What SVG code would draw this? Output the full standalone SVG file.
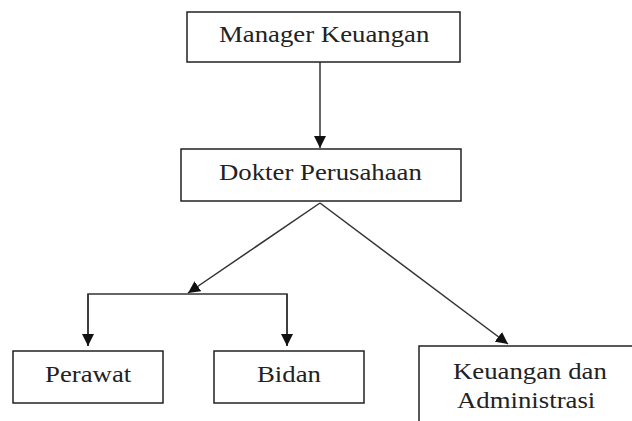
<svg xmlns="http://www.w3.org/2000/svg" width="632" height="421" viewBox="0 0 632 421">
<style>
.box{fill:#fff;stroke:#222;stroke-width:1.5}
.lbl{font-family:"Liberation Serif","Times New Roman",serif;font-size:22.5px;fill:#222}
.con{fill:none;stroke:#333;stroke-width:1.5}
</style>
<defs>
<marker id="ah" viewBox="0 0 12 12" refX="12" refY="6" markerWidth="12" markerHeight="12" markerUnits="userSpaceOnUse" orient="auto">
<path d="M0,0 L12,6 L0,12 z" fill="#111"/>
</marker>
</defs>
<rect width="632" height="421" fill="#fff"/>
<g id="connectors">
<line class="con" x1="320" y1="62" x2="320" y2="148" marker-end="url(#ah)"/>
<line class="con" x1="320" y1="203" x2="188" y2="293" marker-end="url(#ah)"/>
<polyline class="con" points="88,346 88,294 287,294 287,346"/>
<line class="con" x1="88" y1="294" x2="88" y2="346" marker-end="url(#ah)"/>
<line class="con" x1="287" y1="294" x2="287" y2="346" marker-end="url(#ah)"/>
<line class="con" x1="320" y1="203" x2="508" y2="344" marker-end="url(#ah)"/>
</g>
<g id="manager">
<rect class="box" x="187" y="12" width="273" height="50"/>
<text class="lbl" transform="translate(219,42) scale(1.19,1)" x="0" y="0">Manager Keuangan</text>
</g>
<g id="dokter">
<rect class="box" x="181" y="149" width="280" height="52"/>
<text class="lbl" transform="translate(219,180) scale(1.19,1)" x="0" y="0">Dokter Perusahaan</text>
</g>
<g id="perawat">
<rect class="box" x="13" y="351" width="150" height="52"/>
<text class="lbl" transform="translate(45,382) scale(1.19,1)" x="0" y="0">Perawat</text>
</g>
<g id="bidan">
<rect class="box" x="214" y="351" width="150" height="52"/>
<text class="lbl" transform="translate(257,382) scale(1.19,1)" x="0" y="0">Bidan</text>
</g>
<g id="keuangan">
<rect class="box" x="419" y="346" width="230" height="100"/>
<text class="lbl" transform="translate(453,379) scale(1.19,1)" x="0" y="0">Keuangan dan</text>
<text class="lbl" transform="translate(457,408) scale(1.19,1)" x="0" y="0">Administrasi</text>
</g>
</svg>
